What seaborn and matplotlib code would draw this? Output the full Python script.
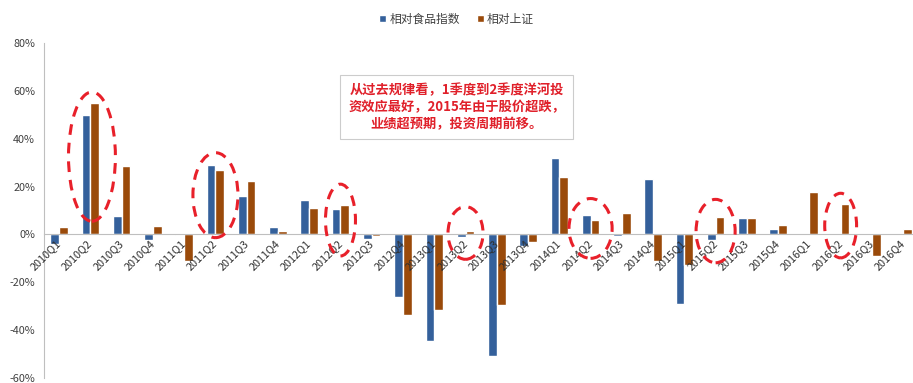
import pandas as pd
import matplotlib
matplotlib.use("Agg")
import matplotlib.pyplot as plt
from matplotlib.patches import Ellipse
from matplotlib.ticker import FuncFormatter, FixedLocator
import seaborn as sns

quarters = [f"{y}Q{q}" for y in range(2010, 2017) for q in range(1, 5)]

food_rel = [-3.9, 50.0, 7.6, -2.2, -0.4, 28.9, 15.9, 3.2, 14.5, 10.5, -1.8, -26.2, -44.6, -1.1,
            -50.8, -4.8, 32.1, 8.3, -0.7, 23.3, -29.1, -2.2, 7.0, 2.3, 0.0, 0.0, 0.0, 0.0]
sh_rel = [3.2, 54.8, 28.4, 3.4, -11.0, 26.8, 22.3, 1.5, 11.0, 12.3, -0.7, -33.8, -31.7, 1.5,
          -29.7, -3.2, 24.1, 6.2, 8.8, -11.3, -12.8, 7.3, 7.0, 4.0, 17.9, 12.8, -9.2, 2.1]

series_names = ["相对食品指数", "相对上证"]
colors = ["#34609b", "#9a4a0a"]

# highlighted Q2 quarters: (quarter, centre value, height)
circles = [("2010Q2", 32.5, 54), ("2011Q2", 16.4, 35.5), ("2012Q2", 6.0, 30),
           ("2013Q2", 0.6, 22), ("2014Q2", 2.5, 25), ("2015Q2", 1.4, 26.5),
           ("2016Q2", 3.7, 27)]
circle_w = [1.5, 1.44, 0.96, 1.12, 1.38, 1.25, 1.02]

note = "从过去规律看，1季度到2季度洋河投\n资效应最好，2015年由于股价超跌，\n业绩超预期，投资周期前移。"

df = pd.DataFrame({
    "quarter": quarters * 2,
    "series": [series_names[0]] * len(quarters) + [series_names[1]] * len(quarters),
    "value": food_rel + sh_rel,
})

sns.set_style("white")
plt.rcParams["font.family"] = ["Noto Sans CJK SC", "DejaVu Sans"]

fig = plt.figure(figsize=(9.13, 3.83), dpi=100)
ax = fig.add_axes([43.5 / 913, 5 / 383, 875.3 / 913, 335 / 383])

sns.barplot(data=df, x="quarter", y="value", hue="series", palette=colors,
            width=0.56, gap=0, saturation=1, ax=ax, legend=True)

ax.set_axisbelow(False)
ax.set_xlim(-0.5, len(quarters) - 0.5)
ax.set_ylim(-60, 80)
ax.set_yticks(range(-60, 81, 20))
ax.yaxis.set_major_formatter(FuncFormatter(lambda v, p: f"{v:.0f}%"))
ax.set_xlabel("")
ax.set_ylabel("")

for s in ["top", "right"]:
    ax.spines[s].set_visible(False)
ax.spines["left"].set_color("#bfbfbf")
ax.spines["bottom"].set_color("#bfbfbf")
ax.spines["bottom"].set_position(("data", 0))

ax.tick_params(axis="y", direction="out", length=4, color="#bfbfbf",
               labelsize=7.8, labelcolor="#404040", pad=2)
ax.xaxis.set_minor_locator(FixedLocator([i + 0.5 for i in range(len(quarters))]))
ax.tick_params(axis="x", which="minor", direction="out", length=4, color="#bfbfbf")
ax.tick_params(axis="x", which="major", length=0, pad=5, labelsize=7.8, labelcolor="#303030")
plt.setp(ax.get_xticklabels(), rotation=45, ha="right", va="center", rotation_mode="anchor")

for (q, yc, h), w in zip(circles, circle_w):
    i = quarters.index(q)
    xc = i + 0.05 if q == "2010Q2" else i
    ax.add_patch(Ellipse((xc, yc), w, h, fill=False, edgecolor="#e8202a",
                         linewidth=2.2, linestyle=(0, (3.5, 2.6)), zorder=5))

handles, labels = ax.get_legend_handles_labels()
ax.legend(handles, labels, loc="center", bbox_to_anchor=(0.5, 1 - 19 / 383),
          bbox_transform=fig.transFigure, ncol=2, frameon=False, fontsize=8.5,
          handlelength=0.6, handleheight=0.6, handletextpad=0.3, columnspacing=1.4,
          labelcolor="#404040")

fig.text(0.5, 1 - 107 / 383, note, ha="center", va="center", color="#e0202a",
         fontsize=9.5, fontweight="bold", linespacing=1.3,
         bbox=dict(boxstyle="square,pad=0.6", facecolor="white", edgecolor="#cccccc", linewidth=0.8))

fig.savefig("out.png", dpi=100)
